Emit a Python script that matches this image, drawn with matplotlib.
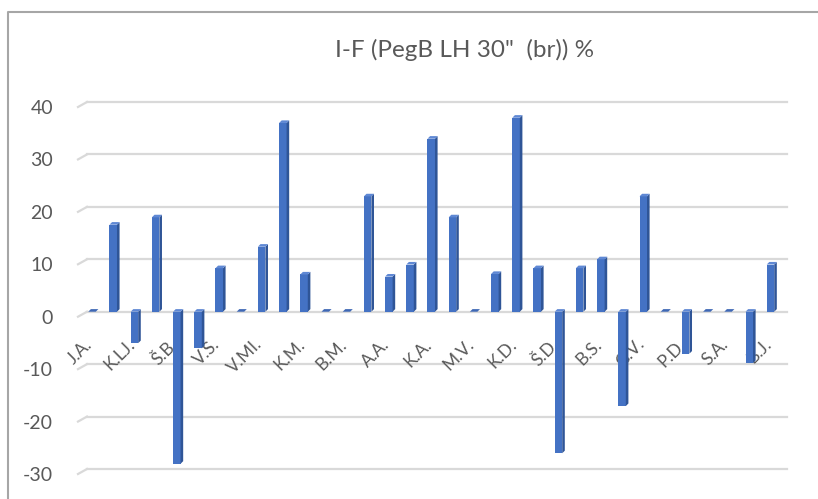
import matplotlib
matplotlib.use("Agg")
import matplotlib.pyplot as plt
import matplotlib.transforms as mtransforms
from matplotlib.lines import Line2D

plt.rcParams["axes.unicode_minus"] = False

# ---- data ----
values = [0, 16.6, -6, 18, -29, -7, 8.3, 0, 12.4, 36.0, 7.1, 0, 0, 22, 6.7, 9.0, 33.0,
          18, 0, 7.2, 37.0, 8.3, -27, 8.3, 10, -18, 22, 0, -8, 0, 0, -9.8, 9.0]
tick_labels = ["J.A.", "K.LJ.", "Š.B.", "V.S.", "V.MI.", "K.M.", "B.M.", "A.A.", "K.A.",
               "M.V.", "K.D.", "Š.D.", "B.S.", "G.V.", "P.D.", "S.A.", "B.J."]
y_ticks = [-30, -20, -10, 0, 10, 20, 30, 40]
title = "I-F (PegB LH 30\"  (br)) %"

FONT = "Lato"
GRAY = "#595959"
FRONT = "#4472C4"
SIDE = "#2F5597"
TOP = "#5F88D4"

W, H = 818, 499
fig = plt.figure(figsize=(W / 100, H / 100), dpi=100)

ax_l, ax_r, ax_t, ax_b = 81, 787, 102, 469
ax = fig.add_axes([ax_l / W, 1 - ax_b / H, (ax_r - ax_l) / W, (ax_b - ax_t) / H])
xmin, xmax = -0.52, 32.78
ax.set_xlim(xmin, xmax)
ax.set_ylim(-30, 40)
for s in ax.spines.values():
    s.set_visible(False)
ax.set_xticks([])
ax.set_yticks(y_ticks)
ax.tick_params(axis="y", length=0, pad=20, labelsize=14, labelcolor=GRAY)
for lab in ax.get_yticklabels():
    lab.set_fontfamily(FONT)
    lab.set_transform(lab.get_transform() + mtransforms.ScaledTranslation(0, -5 / 100, fig.dpi_scale_trans))

px_x = (xmax - xmin) / (ax_r - ax_l)
px_y = 70 / (ax_b - ax_t)

# gridlines with small perspective diagonal at the left
for yv in y_ticks:
    ax.plot([xmin + 6 * px_x, xmax], [yv, yv], color="#D9D9D9", lw=1.6, zorder=0.5, clip_on=False)
    ax.plot([xmin - 3 * px_x, xmin + 6 * px_x], [yv - 5 * px_y, yv], color="#D9D9D9", lw=1.6,
            zorder=0.5, clip_on=False)

# bars with pseudo-3D faces
w = 7.5 * px_x
d = 2.6 * px_x
dy = 2.6 * px_y
xs = list(range(len(values)))
ax.bar(xs, values, width=w, color=FRONT, zorder=3, linewidth=0)
for x, v in zip(xs, values):
    lo, hi = min(0, v), max(0, v)
    r = x + w / 2
    ax.fill([r, r + d, r + d, r], [lo, lo + dy, hi + dy, hi], color=SIDE, zorder=3, lw=0)
    ax.fill([x - w / 2, r, r + d, x - w / 2 + d], [hi, hi, hi + dy, hi + dy],
            color=TOP if v != 0 else "#3F68B5", zorder=3.1, lw=0)

# category labels (every other category), drawn behind bars
off = mtransforms.ScaledTranslation(-2 / 100, -30 / 100, fig.dpi_scale_trans)
for i, lab in enumerate(tick_labels):
    ax.text(2 * i, 0, lab, transform=ax.transData + off, rotation=45, rotation_mode="anchor",
            ha="right", va="center", fontsize=12.5, color=GRAY, family=FONT, zorder=1,
            clip_on=False)

fig.text(465 / W, 1 - 50 / H, title, ha="center", va="center", fontsize=17.5, color=GRAY, family=FONT)

# chart border (partially cropped: only top and left visible)
bx, by = 8 / W, 1 - 12 / H
fig.add_artist(Line2D([bx, bx, 1.0], [0.0, by, by], transform=fig.transFigure,
                      color="#A6A6A6", lw=1.5))

fig.savefig("out.png", dpi=100)
